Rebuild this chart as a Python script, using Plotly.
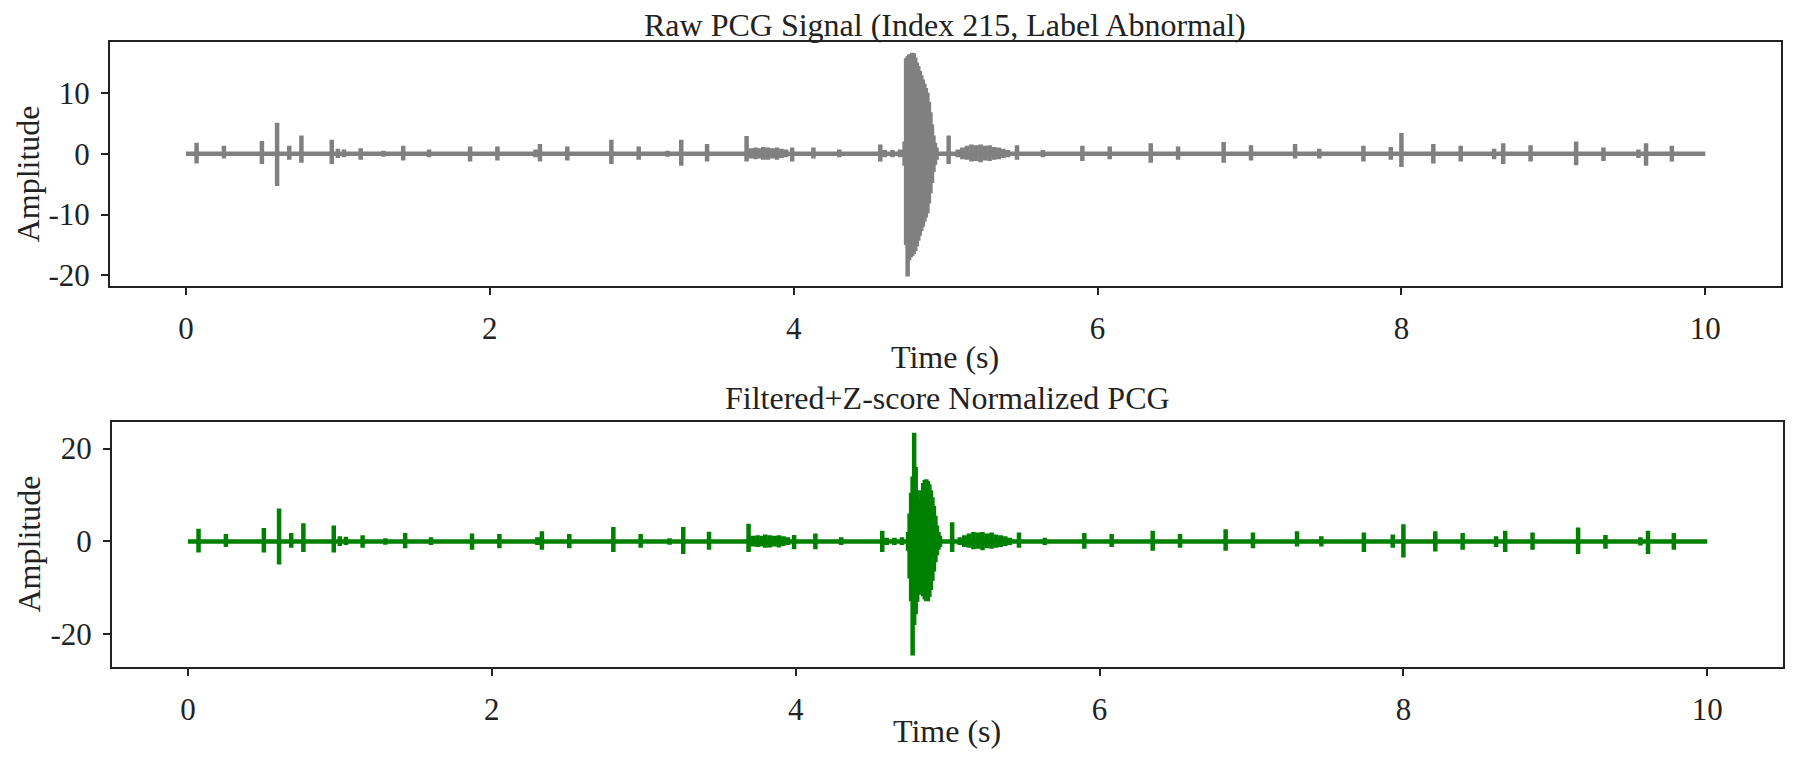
import plotly.graph_objects as go

# ---- data ----
# each entry is one burst: time (s), upper peak, lower peak
raw_t = [0.07, 0.25, 0.50, 0.60, 0.68, 0.76, 0.96, 1.00, 1.04, 1.15, 1.30, 1.43, 1.60,
         1.87, 2.05, 2.30, 2.33, 2.51, 2.80, 2.98, 3.17, 3.26, 3.43, 3.69, 3.72, 3.75,
         3.78, 3.80, 3.83, 3.86, 3.89, 3.92, 3.95, 3.99, 4.13, 4.30, 4.57, 4.60, 4.65,
         4.70, 4.73, 4.74, 4.75, 4.76, 4.77, 4.78, 4.79, 4.80, 4.81, 4.82, 4.83, 4.84,
         4.85, 4.86, 4.87, 4.88, 4.89, 4.90, 4.91, 4.92, 4.93, 4.94, 5.02, 5.08, 5.11,
         5.14, 5.17, 5.20, 5.23, 5.26, 5.29, 5.32, 5.35, 5.38, 5.41, 5.47, 5.64, 5.90,
         6.08, 6.35, 6.53, 6.83, 7.01, 7.30, 7.46, 7.75, 7.93, 8.00, 8.21, 8.39, 8.61,
         8.67, 8.85, 9.15, 9.33, 9.56, 9.61, 9.78]
raw_hi = [1.8, 1.3, 2.1, 5.1, 1.3, 3.0, 2.3, 0.8, 0.7, 0.9, 0.5, 1.3, 0.7,
          1.2, 1.2, 0.7, 1.6, 1.2, 2.3, 1.2, 0.5, 2.3, 1.6, 2.9, 0.9, 1.0,
          0.9, 1.1, 1.0, 0.9, 1.0, 0.8, 0.7, 1.0, 1.0, 0.7, 1.5, 0.6, 0.6,
          0.7, 2.0, 15.7, 16.0, 16.3, 16.4, 16.6, 16.5, 15.8, 15.0, 14.4, 13.6, 12.9,
          12.2, 11.5, 10.8, 10.0, 8.5, 6.8, 4.8, 3.0, 1.8, 1.0, 3.0, 0.7, 1.0,
          1.3, 1.5, 1.4, 1.5, 1.3, 1.4, 1.1, 1.0, 0.8, 0.6, 1.4, 0.6, 1.3,
          1.2, 1.7, 1.2, 1.9, 1.4, 1.6, 0.8, 1.3, 1.1, 3.4, 1.6, 1.3, 0.8,
          1.7, 1.4, 2.0, 1.0, 0.7, 1.7, 1.3]
raw_lo = [-1.6, -0.8, -1.7, -5.3, -1.0, -1.5, -1.7, -0.7, -0.6, -1.0, -0.5, -1.1, -0.6,
          -1.3, -1.1, -0.6, -1.3, -1.1, -1.7, -1.0, -0.5, -2.0, -1.3, -1.3, -0.8, -0.9,
          -0.8, -1.0, -1.0, -0.8, -1.0, -0.7, -0.6, -1.3, -0.8, -0.6, -1.3, -0.6, -0.6,
          -0.6, -2.0, -15.0, -20.2, -17.5, -17.0, -16.8, -16.5, -16.0, -15.2, -14.3, -13.5, -12.7,
          -12.0, -11.2, -10.5, -9.8, -8.2, -6.5, -4.8, -3.0, -1.8, -1.0, -1.7, -0.6, -0.9,
          -1.0, -1.3, -1.2, -1.4, -1.1, -1.2, -1.0, -0.9, -0.7, -0.6, -1.0, -0.6, -1.2,
          -0.9, -1.5, -1.0, -1.5, -1.1, -0.8, -0.8, -1.3, -1.0, -2.2, -1.6, -1.3, -0.9,
          -1.7, -1.3, -1.9, -1.2, -0.7, -2.0, -1.3]

filt_t = [0.07, 0.25, 0.50, 0.60, 0.68, 0.76, 0.96, 1.00, 1.04, 1.15, 1.30, 1.43, 1.60,
          1.87, 2.05, 2.30, 2.33, 2.51, 2.80, 2.98, 3.17, 3.26, 3.43, 3.69, 3.72, 3.75,
          3.78, 3.80, 3.83, 3.86, 3.89, 3.92, 3.95, 3.99, 4.13, 4.30, 4.57, 4.60, 4.65,
          4.70, 4.74, 4.75, 4.76, 4.77, 4.78, 4.79, 4.80, 4.81, 4.82, 4.83, 4.84, 4.85,
          4.86, 4.87, 4.88, 4.89, 4.90, 4.91, 4.92, 4.93, 4.94, 4.95, 5.03, 5.08, 5.11,
          5.14, 5.17, 5.20, 5.23, 5.26, 5.29, 5.32, 5.35, 5.38, 5.41, 5.47, 5.64, 5.90,
          6.08, 6.35, 6.53, 6.83, 7.01, 7.30, 7.46, 7.74, 7.93, 8.00, 8.21, 8.39, 8.61,
          8.67, 8.85, 9.15, 9.33, 9.56, 9.61, 9.78]
filt_hi = [2.7, 1.6, 2.9, 7.1, 1.8, 3.9, 3.4, 1.1, 1.0, 1.3, 0.7, 1.8, 0.9,
           1.7, 1.6, 0.9, 2.2, 1.6, 3.1, 1.6, 0.7, 3.1, 2.1, 3.8, 1.2, 1.3,
           1.2, 1.5, 1.3, 1.2, 1.3, 1.1, 0.9, 1.4, 1.7, 0.9, 2.3, 0.8, 0.8,
           0.9, 2.0, 6.0, 10.5, 14.0, 23.4, 16.0, 11.0, 9.0, 8.4, 11.0, 12.6, 13.2,
           13.4, 13.0, 12.3, 11.0, 9.5, 7.7, 5.5, 3.4, 2.0, 1.2, 4.1, 0.9, 1.3,
           1.7, 2.0, 1.9, 2.0, 1.7, 1.9, 1.5, 1.3, 1.1, 0.8, 1.9, 0.8, 1.8,
           1.6, 2.3, 1.6, 2.6, 1.9, 2.2, 1.1, 1.9, 1.5, 3.7, 2.2, 1.8, 1.1,
           2.3, 1.9, 3.0, 1.4, 0.9, 2.3, 1.8]
filt_lo = [-2.4, -1.2, -2.4, -5.0, -1.4, -2.3, -2.4, -1.0, -0.8, -1.4, -0.7, -1.5, -0.8,
           -1.8, -1.5, -0.8, -1.8, -1.5, -2.3, -1.4, -0.7, -2.7, -1.8, -2.3, -1.1, -1.2,
           -1.1, -1.4, -1.3, -1.1, -1.3, -1.0, -0.8, -1.7, -1.7, -0.8, -2.3, -0.8, -0.8,
           -0.8, -2.0, -8.0, -12.9, -24.6, -18.0, -15.7, -13.0, -11.5, -10.0, -11.0, -11.8, -12.5,
           -12.9, -12.9, -12.0, -10.5, -8.5, -6.5, -4.5, -3.0, -1.8, -1.2, -2.3, -0.8, -1.2,
           -1.4, -1.7, -1.6, -1.9, -1.5, -1.6, -1.4, -1.2, -1.0, -0.8, -1.4, -0.8, -1.6,
           -1.2, -2.0, -1.4, -2.0, -1.5, -1.1, -1.1, -2.3, -1.4, -3.5, -2.2, -1.8, -1.2,
           -2.3, -1.8, -2.7, -1.6, -0.9, -2.7, -1.8]

t_start, t_end = 0.0, 10.0

raw_ticks = [-20, -10, 0, 10]
raw_ticktext = ["-20", "-10", "0", "10"]
filt_ticks = [-20, 0, 20]
filt_ticktext = ["-20", "0", "20"]
x_ticks = [0, 2, 4, 6, 8, 10]


def trace_path(ts, his, los):
    # baseline with a vertical stroke for every burst
    xs, ys = [t_start], [0]
    for t, h, l in zip(ts, his, los):
        xs += [t, t, t, t]
        ys += [0, h, l, 0]
    xs.append(t_end)
    ys.append(0)
    return xs, ys


W, H = 1789, 743
FONT = "Liberation Serif"
INK = "#222222"

fig = go.Figure()

x1, y1 = trace_path(raw_t, raw_hi, raw_lo)
fig.add_trace(go.Scatter(x=x1, y=y1, mode="lines", line=dict(color="#808080", width=4.5),
                         xaxis="x", yaxis="y", hoverinfo="skip"))
x2, y2 = trace_path(filt_t, filt_hi, filt_lo)
fig.add_trace(go.Scatter(x=x2, y=y2, mode="lines", line=dict(color="#008000", width=4.5),
                         xaxis="x2", yaxis="y2", hoverinfo="skip"))

axis_common = dict(showline=True, mirror=True, linecolor=INK, linewidth=1.8,
                   ticks="outside", ticklen=7, tickwidth=1.5, tickcolor=INK,
                   showgrid=False, zeroline=False,
                   tickfont=dict(family=FONT, size=31, color=INK))

fig.update_layout(
    width=W, height=H,
    margin=dict(l=0, r=0, t=0, b=0),
    plot_bgcolor="white", paper_bgcolor="white",
    showlegend=False,
    xaxis=dict(domain=[0.0570, 0.9912], range=[-0.5, 10.5], tickvals=x_ticks,
               anchor="y", ticklabelstandoff=7, **axis_common),
    yaxis=dict(domain=[0.6218, 0.9542], range=[-21.8, 18.4], tickvals=raw_ticks,
               ticktext=raw_ticktext, anchor="x", ticklabelstandoff=5, **axis_common),
    xaxis2=dict(domain=[0.0581, 0.9923], range=[-0.5, 10.5], tickvals=x_ticks,
                anchor="y2", ticklabelstandoff=7, **axis_common),
    yaxis2=dict(domain=[0.1050, 0.4374], range=[-27.0, 25.7], tickvals=filt_ticks,
                ticktext=filt_ticktext, anchor="x2", ticklabelstandoff=5, **axis_common),
)

# titles and axis labels
labels = [
    ("Raw PCG Signal (Index 215, Label Abnormal)", 0.524, 0.9770, 0, 32),
    ("Time (s)", 0.524, 0.5262, 0, 32),
    ("Filtered+Z-score Normalized PCG", 0.525, 0.4697, 0, 32),
    ("Time (s)", 0.525, 0.0180, 0, 32),
    ("Amplitude", 0.0112, 0.7740, -90, 32),
    ("Amplitude", 0.0118, 0.2712, -90, 32),
]
for text, x, y, ang, size in labels:
    fig.add_annotation(text=text, x=x, y=y, xref="paper", yref="paper",
                       xanchor="center", yanchor="middle", textangle=ang,
                       showarrow=False, font=dict(family=FONT, size=size, color=INK))

fig.write_html("out.html")
